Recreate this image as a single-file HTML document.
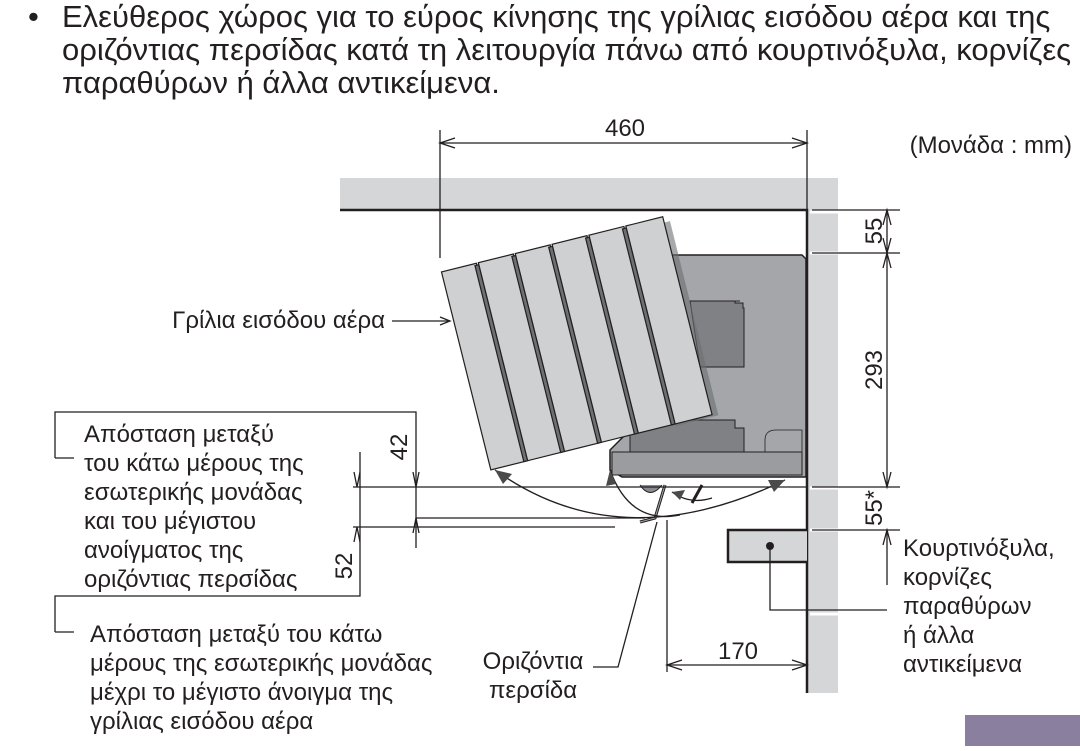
<!DOCTYPE html>
<html><head><meta charset="utf-8"><style>
body{margin:0;width:1080px;height:746px;background:#fff;overflow:hidden;font-family:"Liberation Sans",sans-serif;}
</style></head><body>
<svg width="1080" height="746" viewBox="0 0 1080 746" xmlns="http://www.w3.org/2000/svg" font-family="Liberation Sans, sans-serif" fill="#231f20">
<text x="28" y="27" font-size="31">•</text>
<text x="62" y="27" font-size="31">Ελεύθερος χώρος για το εύρος κίνησης της γρίλιας εισόδου αέρα και της</text>
<text x="62" y="60" font-size="31">οριζόντιας περσίδας κατά τη λειτουργία πάνω από κουρτινόξυλα, κορνίζες</text>
<text x="62" y="93" font-size="31">παραθύρων ή άλλα αντικείμενα.</text>

<!-- ceiling & wall -->
<rect x="340" y="178" width="498" height="32" fill="#d5d6d8"/>
<rect x="808" y="178" width="30" height="515" fill="#d5d6d8"/>
<g stroke="#fff" stroke-width="3"><line x1="810" y1="212" x2="840" y2="212"/><line x1="810" y1="253" x2="840" y2="253"/><line x1="810" y1="488" x2="840" y2="488"/><line x1="810" y1="530" x2="840" y2="530"/><line x1="810" y1="614" x2="840" y2="614"/></g>
<path d="M340 210 H807 V693" fill="none" stroke="#231f20" stroke-width="2.5"/>
<!-- curtain rail -->
<path d="M807 530 H728 V562 H807" fill="#d5d6d8" stroke="#231f20" stroke-width="2.5"/>
<circle cx="770" cy="546" r="4"/>
<path d="M770 546 V610 H887" fill="none" stroke="#231f20" stroke-width="1.3"/>

<!-- unit body -->
<path d="M672 255 H802 L806 259 V477 H622 L610 470 V450 L625 435 L672 300 Z" fill="#a4a6a9" stroke="#231f20" stroke-width="1.5"/>
<path d="M740 301 H735 V303 H743 V308 H744 V367 H700 L690 301 Z" fill="#7f8184" stroke="#231f20" stroke-width="1"/>
<path d="M630 420 H735 V428 H744 V452 H630 Z" fill="#7f8184" stroke="#231f20" stroke-width="1"/>
<path d="M776 430 H802 V472 H776 Q765 472 765 462 V440 Q765 430 776 430 Z" fill="#a4a6a9" stroke="#231f20" stroke-width="0.8"/>
<rect x="612" y="452" width="190" height="23" fill="#9a9c9f" stroke="#231f20" stroke-width="1"/>
<path d="M640 485 Q650 500 662 485" fill="#8a8c8f" stroke="#231f20"/>
<path d="M665 485 L655 518 L640 522" fill="none" stroke="#231f20" stroke-width="3"/>
<path d="M665 485 L655 518 L640 522" fill="none" stroke="#a4a6a9" stroke-width="1"/>
<path d="M702 485 L692 503" fill="none" stroke="#231f20" stroke-width="3"/>

<!-- grille -->
<g transform="translate(441,270) rotate(-14)">
<rect x="190" y="8" width="44" height="200" fill="#6d6f72" opacity="0.6"/>
<g stroke="#231f20" stroke-width="1.2">
<rect x="0" y="2" width="36" height="204" fill="#cfd0d2"/>
<rect x="34" y="4" width="4" height="202" fill="#6d6f72"/>
<rect x="38" y="2" width="36" height="204" fill="#cfd0d2"/>
<rect x="72" y="4" width="4" height="202" fill="#6d6f72"/>
<rect x="76" y="2" width="36" height="204" fill="#cfd0d2"/>
<rect x="110" y="4" width="4" height="202" fill="#6d6f72"/>
<rect x="114" y="2" width="36" height="204" fill="#cfd0d2"/>
<rect x="148" y="4" width="4" height="202" fill="#6d6f72"/>
<rect x="152" y="2" width="36" height="204" fill="#cfd0d2"/>
<rect x="186" y="4" width="4" height="202" fill="#6d6f72"/>
<rect x="190" y="2" width="38" height="204" fill="#cfd0d2"/>
</g></g>

<!-- floor / dim lines -->
<g stroke="#231f20" stroke-width="1.3" fill="none">
<line x1="353" y1="487" x2="806" y2="487"/>
<line x1="416" y1="518" x2="645" y2="518"/>
<line x1="353" y1="527" x2="615" y2="527"/>
<path d="M55 458 V412 H416 V548"/>
<line x1="55" y1="458" x2="74" y2="458"/>
<path d="M55 632 V596 H360 V452"/>
<line x1="55" y1="632" x2="74" y2="632"/>
<path d="M495 470 Q620 560 785 480"/>
<path d="M610 470 Q630 525 680 515"/>
<path d="M672 492 Q690 505 712 498"/>
<line x1="440" y1="130" x2="440" y2="258"/>
<line x1="807" y1="130" x2="807" y2="210"/>
<line x1="440" y1="143" x2="807" y2="143"/>
<path d="M455 138 L440 143 L455 148 M792 138 L807 143 L792 148"/>
<line x1="812" y1="210" x2="900" y2="210"/>
<line x1="812" y1="253" x2="900" y2="253"/>
<line x1="812" y1="487" x2="900" y2="487"/>
<line x1="812" y1="530" x2="900" y2="530"/>
<line x1="887" y1="210" x2="887" y2="487"/>
<line x1="887" y1="530" x2="887" y2="585"/>
<path d="M883 225 L887 210 L891 225 M883 238 L887 253 L891 238 M883 268 L887 253 L891 268 M883 472 L887 487 L891 472 M883 545 L887 530 L891 545"/>
<line x1="667" y1="520" x2="667" y2="672"/>
<line x1="667" y1="665" x2="807" y2="665"/>
<path d="M682 660 L667 665 L682 670 M792 660 L807 665 L792 670"/>
<path d="M354 472 L357 487 L360 472 M354 542 L357 527 L360 542 M413 472 L416 487 L419 472 M413 533 L416 518 L419 533"/>
<line x1="392" y1="321" x2="448" y2="321"/>
<path d="M440 317 L450 321 L440 325"/>
<path d="M593 667 H618 L657 522"/>
</g>
<g fill="#4a4a4a">
<path d="M495 470 L512 474 L503 484 Z"/>
<path d="M785 480 L768 480 L774 492 Z"/>
<path d="M610 470 L606 486 L616 484 Z"/>
<path d="M672 492 L685 490 L680 500 Z"/>
</g>

<g font-size="24">
<text x="625" y="136" text-anchor="middle">460</text>
<text x="1072" y="153" text-anchor="end">(Μονάδα : mm)</text>
<text x="385" y="328" text-anchor="end">Γρίλια εισόδου αέρα</text>
<text x="84" y="442">Απόσταση μεταξύ</text>
<text x="84" y="471">του κάτω μέρους της</text>
<text x="84" y="500">εσωτερικής μονάδας</text>
<text x="84" y="529">και του μέγιστου</text>
<text x="84" y="558">ανοίγματος της</text>
<text x="84" y="587">οριζόντιας περσίδας</text>
<text x="90" y="642">Απόσταση μεταξύ του κάτω</text>
<text x="90" y="671">μέρους της εσωτερικής μονάδας</text>
<text x="90" y="700">μέχρι το μέγιστο άνοιγμα της</text>
<text x="90" y="729">γρίλιας εισόδου αέρα</text>
<text x="533" y="669" text-anchor="middle">Οριζόντια</text>
<text x="533" y="698" text-anchor="middle">περσίδα</text>
<text x="738" y="659" text-anchor="middle">170</text>
<text x="903" y="556">Κουρτινόξυλα,</text>
<text x="903" y="585">κορνίζες</text>
<text x="903" y="614">παραθύρων</text>
<text x="903" y="643">ή άλλα</text>
<text x="903" y="672">αντικείμενα</text>
<text transform="translate(882,231) rotate(-90)" text-anchor="middle">55</text>
<text transform="translate(882,370) rotate(-90)" text-anchor="middle">293</text>
<text transform="translate(882,508) rotate(-90)" text-anchor="middle">55*</text>
<text transform="translate(407,447) rotate(-90)" text-anchor="middle">42</text>
<text transform="translate(352,566) rotate(-90)" text-anchor="middle">52</text>
</g>
<rect x="965" y="715" width="115" height="31" fill="#8a7f9e"/>
</svg>
</body></html>
